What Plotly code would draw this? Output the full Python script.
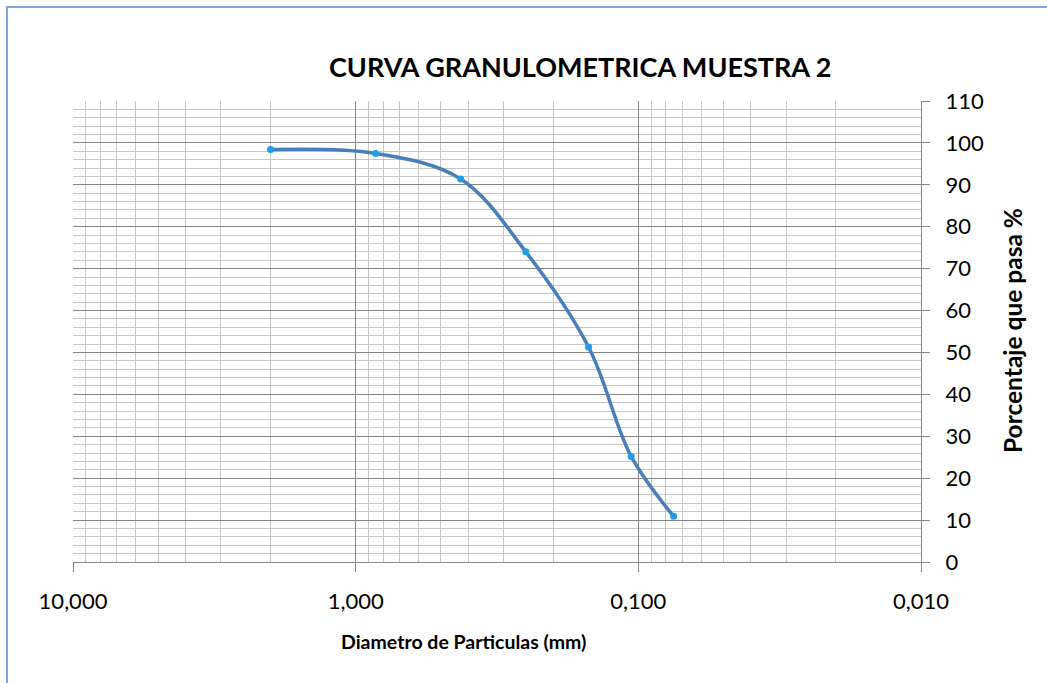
import plotly.graph_objects as go

# Sieve analysis, sample 2
diametro_mm = [2.00, 0.850, 0.425, 0.250, 0.150, 0.106, 0.075]
porcentaje_pasa = [98.4, 97.5, 91.4, 74.0, 51.3, 25.2, 10.9]

x_tick_vals = [10, 1, 0.1, 0.01]
x_tick_text = ["10,000", "1,000", "0,100", "0,010"]

FONT = "Lato"
MAJOR = "#868686"
MINOR = "#C6C6C6"

fig = go.Figure()
fig.add_trace(go.Scatter(
    x=diametro_mm,
    y=porcentaje_pasa,
    mode="lines+markers",
    line=dict(color="#4A7EBB", width=3.5, shape="spline", smoothing=1.0),
    marker=dict(color="#1E9EE6", size=7),
    showlegend=False,
))

fig.update_layout(
    width=1047,
    height=683,
    margin=dict(l=73, r=126, t=101, b=121),
    paper_bgcolor="white",
    plot_bgcolor="white",
    font=dict(family=FONT, size=22, color="#000000"),
    xaxis=dict(
        type="log",
        range=[1, -2],
        tickvals=x_tick_vals,
        ticktext=x_tick_text,
        showgrid=True,
        gridcolor=MAJOR,
        gridwidth=1,
        showline=True,
        linecolor=MAJOR,
        linewidth=1,
        ticks="outside",
        ticklen=9,
        tickcolor=MAJOR,
        ticklabelstandoff=11,
        zeroline=False,
        minor=dict(dtick="D1", showgrid=True, gridcolor=MINOR, gridwidth=1, ticks=""),
    ),
    yaxis=dict(
        side="right",
        range=[0, 110],
        dtick=10,
        showgrid=True,
        gridcolor=MAJOR,
        gridwidth=1,
        showline=True,
        linecolor=MAJOR,
        linewidth=1,
        ticks="outside",
        ticklen=8,
        tickcolor=MAJOR,
        ticklabelstandoff=11,
        zeroline=False,
        minor=dict(dtick=2, showgrid=True, gridcolor=MINOR, gridwidth=1, ticks=""),
    ),
    annotations=[
        dict(text="<b>CURVA GRANULOMETRICA MUESTRA 2</b>", xref="paper", yref="paper",
             x=(580 - 73) / 848, y=(562 - 66) / 461, xanchor="center", yanchor="middle",
             showarrow=False, font=dict(family=FONT, size=27)),
        dict(text="<b>Diametro de Particulas (mm)</b>", xref="paper", yref="paper",
             x=(463 - 73) / 848, y=(562 - 641) / 461, xanchor="center", yanchor="middle",
             showarrow=False, font=dict(family=FONT, size=19.5)),
        dict(text="<b>Porcentaje que pasa %</b>", xref="paper", yref="paper",
             x=(1012 - 73) / 848, y=(562 - 331) / 461, xanchor="center", yanchor="middle",
             textangle=-90, showarrow=False, font=dict(family=FONT, size=24.5)),
    ],
    shapes=[
        dict(type="rect", xref="paper", yref="paper",
             x0=(7 - 73) / 848, x1=(1060 - 73) / 848,
             y0=(562 - 700) / 461, y1=(562 - 7) / 461,
             line=dict(color="#7FA8DC", width=2), fillcolor="rgba(0,0,0,0)", layer="below"),
    ],
)

fig.write_html("out.html")
